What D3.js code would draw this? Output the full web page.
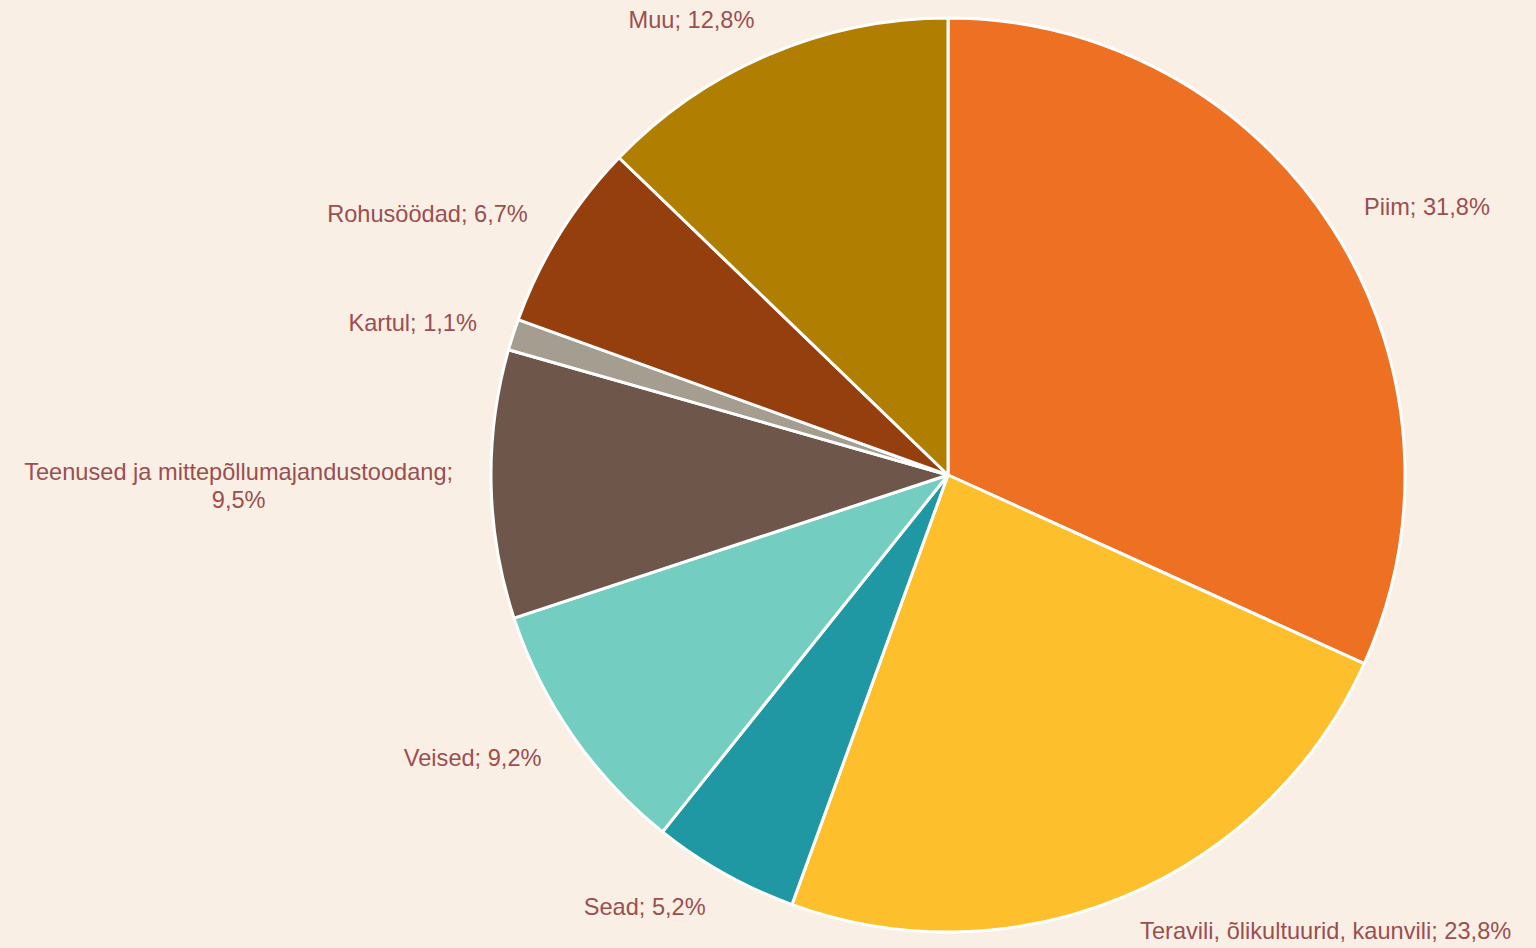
<!DOCTYPE html>
<html>
<head>
  <meta charset="utf-8">
  <script src="https://d3js.org/d3.v7.min.js"></script>
  <style>
    html, body { margin: 0; padding: 0; background: #f9efe5; }
  </style>
</head>
<body>
  <div id="pie-chart"></div>
  <script>
    // categories and shares (%), clockwise from 12 o'clock
    var categories = ['Piim', 'Teravili, õlikultuurid, kaunvili', 'Sead', 'Veised',
      'Teenused ja mittepõllumajandustoodang', 'Kartul', 'Rohusöödad', 'Muu'];
    var values = [31.8, 23.8, 5.2, 9.2, 9.5, 1.1, 6.7, 12.8];
    var colorList = ['#ee7023', '#fdc02c', '#1f98a4', '#73cdc0', '#6f564a', '#a59d90', '#963f0e', '#b07f02'];

    var data = categories.map(function(c, i) { return { label: c, value: values[i] }; });

    var width = 1536, height = 948;
    var cx = 948, cy = 475, radius = 457;

    var svg = d3.select('#pie-chart').append('svg')
      .attr('width', width)
      .attr('height', height)
      .style('display', 'block');

    var g = svg.append('g')
      .attr('transform', 'translate(' + cx + ',' + cy + ')');

    var pie = d3.pie()
      .sort(null)
      .value(function(d) { return d.value; });

    var arc = d3.arc()
      .innerRadius(0)
      .outerRadius(radius);

    var labelArc = d3.arc()
      .innerRadius(radius + 38)
      .outerRadius(radius + 38);

    var color = d3.scaleOrdinal().domain(categories).range(colorList);

    var arcs = g.selectAll('.arc')
      .data(pie(data))
      .enter()
      .append('g')
      .attr('class', 'arc');

    arcs.append('path')
      .attr('d', arc)
      .attr('fill', function(d) { return color(d.data.label); })
      .attr('stroke', '#ffffff')
      .attr('stroke-width', 3)
      .attr('stroke-linejoin', 'round');

    function fmt(v) { return String(v.toFixed(1)).replace('.', ',') + '%'; }

    var maxLabelWidth = 450;

    arcs.append('text')
      .attr('font-family', 'Liberation Sans, Arial, sans-serif')
      .attr('font-size', '23.6px')
      .attr('fill', '#9a4f50')
      .each(function(d) {
        var t = d3.select(this);
        var c = labelArc.centroid(d);
        var right = c[0] >= 0;
        var str = d.data.label + '; ' + fmt(d.data.value);
        t.attr('x', c[0]).attr('y', c[1]).attr('dy', '0.35em')
          .attr('text-anchor', right ? 'start' : 'end')
          .text(str);
        if (this.getComputedTextLength() > maxLabelWidth) {
          // wrap into two centred lines
          var first = d.data.label + ';';
          var second = fmt(d.data.value);
          t.text(null);
          var t1 = t.append('tspan').text(first);
          var w = t1.node().getComputedTextLength();
          var mx = right ? c[0] + w / 2 : c[0] - w / 2;
          t.attr('text-anchor', 'middle');
          t1.attr('x', mx).attr('y', c[1]).attr('dy', '-0.2em');
          t.append('tspan').attr('x', mx).attr('y', c[1]).attr('dy', '0.95em').text(second);
        }
      });
  </script>
</body>
</html>
